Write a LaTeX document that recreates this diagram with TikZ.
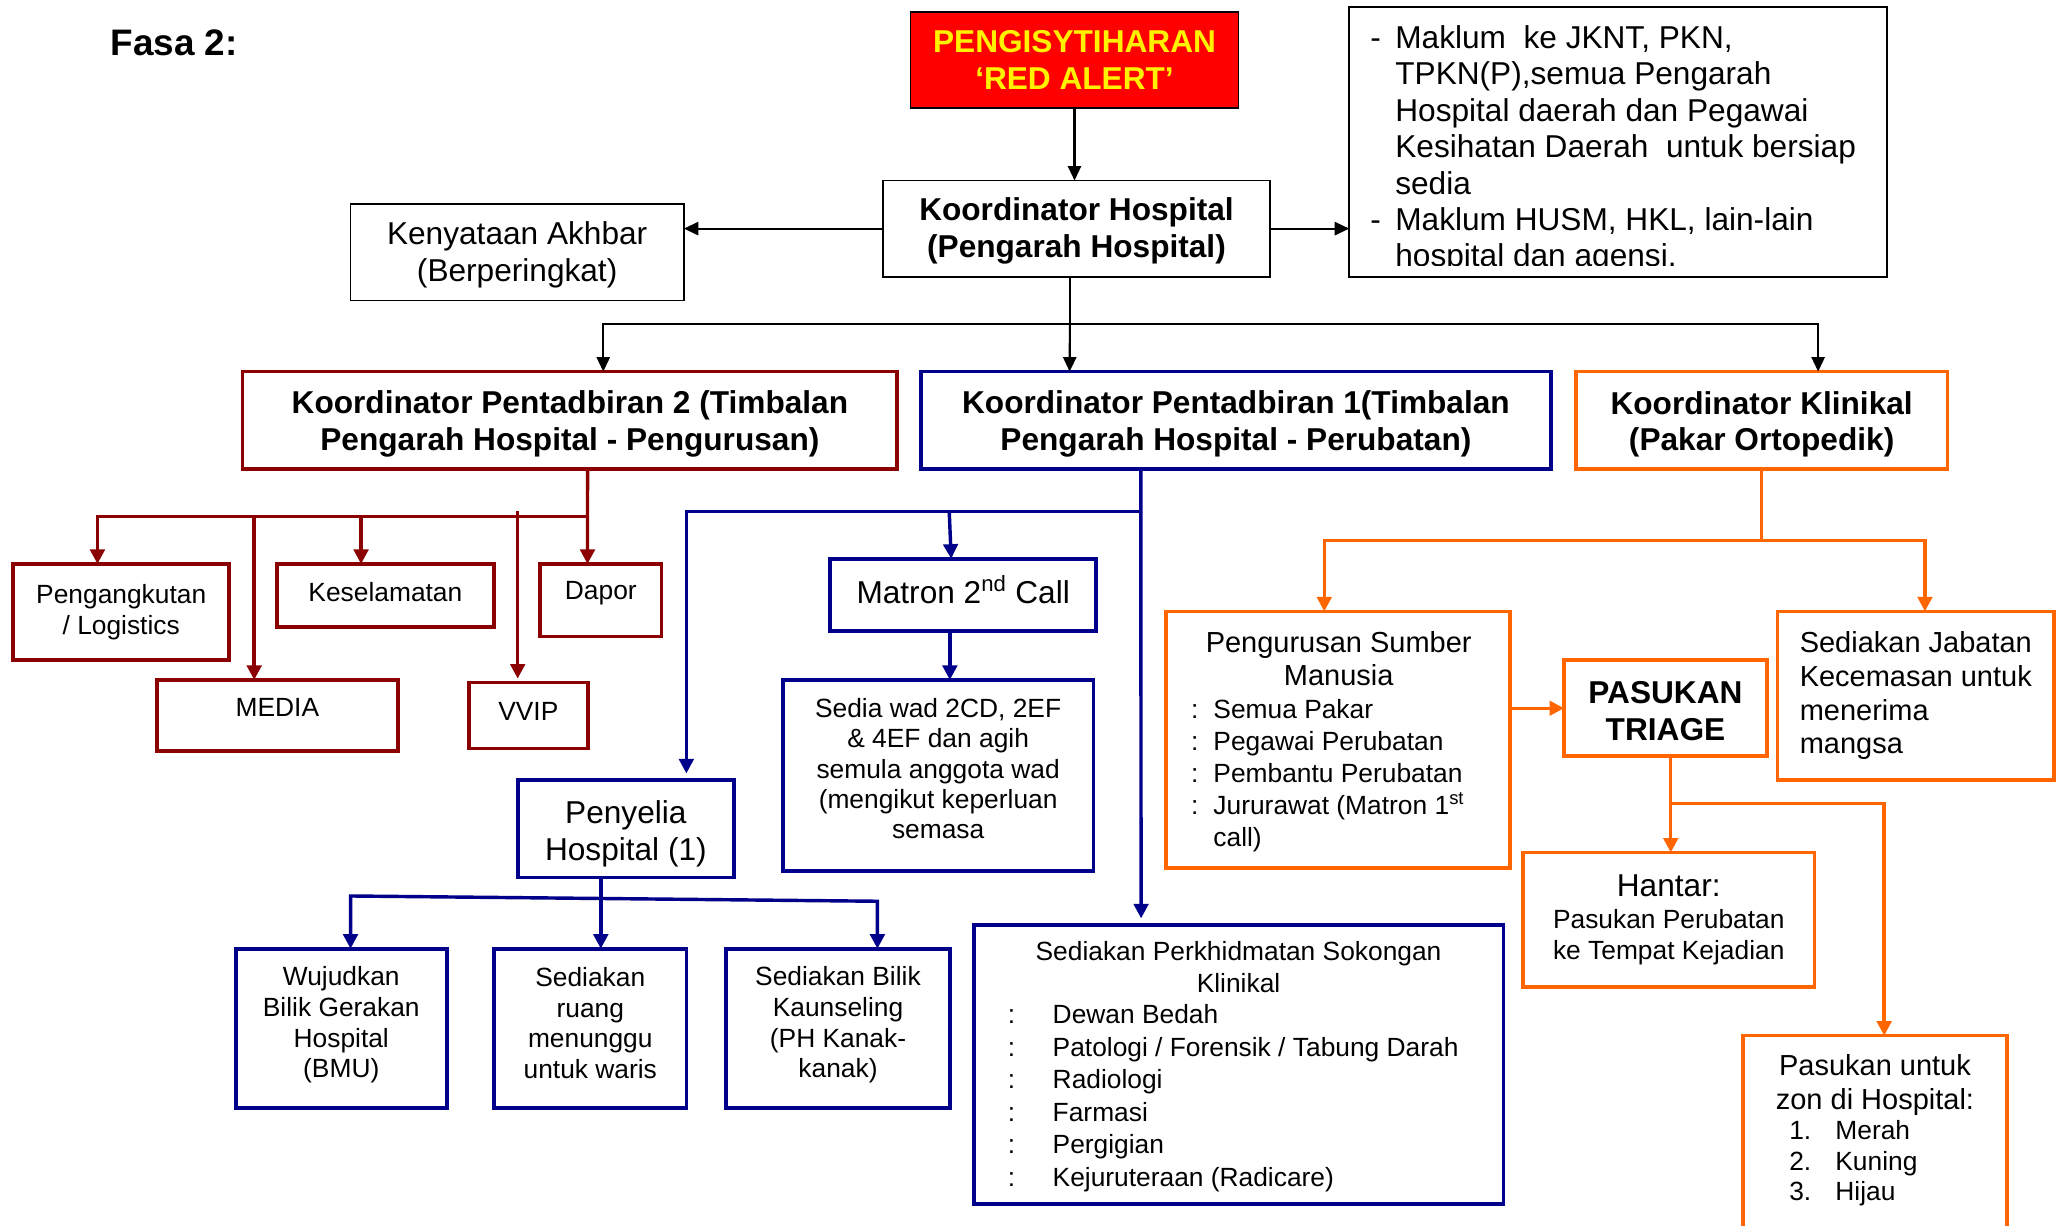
\documentclass[tikz,border=0pt]{standalone}
\usepackage{fontspec}
\setmainfont{Liberation Sans}
\usetikzlibrary{arrows.meta,calc}
\definecolor{dred}{RGB}{139,0,0}
\definecolor{nvy}{RGB}{0,0,139}
\definecolor{orng}{RGB}{255,102,0}
\newcommand\myfA{\fontsize{20}{23.5}\selectfont}
\newcommand\myfB{\fontsize{22}{25.7}\selectfont}
\newcommand\myfC{\fontsize{24}{28}\selectfont}
\begin{document}
\begin{tikzpicture}[x=1pt,y=-1pt,
  bx/.style={draw, line width=2.8pt, inner sep=0pt, outer sep=0pt, anchor=north west, align=center},
  kbox/.style={bx, draw=black, line width=1.4pt},
  rbox/.style={bx, draw=dred},
  nbox/.style={bx, draw=nvy},
  obox/.style={bx, draw=orng},
  sz/.style 2 args={minimum width=#1, minimum height=#2},
  txt/.style={inner sep=0pt, outer sep=0pt, align=center},
  cb/.style={draw=black, line width=1.6pt},
  cr/.style={draw=dred, line width=2.6pt},
  cn/.style={draw=nvy, line width=2.6pt},
  co/.style={draw=orng, line width=2.6pt},
  tipb/.style={-{Triangle[width=10pt,length=11pt]}},
  tipc/.style={-{Triangle[width=11pt,length=11pt]}}
]
\useasboundingbox (0,0) rectangle (1568,930);
\clip (0,0) rectangle (1568,930);

\node[txt, anchor=base west, font=\bfseries\fontsize{28}{32}\selectfont] (title) at (84,42) {Fasa 2:};

% top level
\node[kbox, fill=red, text=yellow, font=\bfseries\myfC, sz={249}{73}] (alert) at (691,9) {PENGISYTIHARAN\\‘RED ALERT’};
\node[kbox, sz={294}{73}] (hosp) at (670,137) {};
\node[txt, font=\bfseries\myfC] (hosp-t) at ($(hosp.center)+(0,2)$) {Koordinator Hospital\\(Pengarah Hospital)};
\node[kbox, sz={253}{73}] (akhbar) at (266,155) {};
\node[txt, font=\myfC] (akhbar-t) at ($(akhbar.center)+(0,2)$) {Kenyataan Akhbar\\(Berperingkat)};
\node[kbox, sz={408}{205}] (info) at (1024,5) {};
\begin{scope}
\clip (1024,5) rectangle (1432,201.5);
\node[txt, anchor=north west, align=left] (infot) at (1040,17.2) {\fontsize{24}{27.67}\selectfont\begin{tabular}[t]{@{}l@{\hspace{11pt}}l@{}}
-&Maklum~ ke JKNT, PKN,\\
&TPKN(P),semua Pengarah\\
&Hospital daerah dan Pegawai\\
&Kesihatan Daerah~ untuk bersiap\\
&sedia\\
-&Maklum HUSM, HKL, lain-lain\\
&hospital dan agensi.
\end{tabular}};
\end{scope}

% second level
\node[rbox, sz={497}{74}] (kp2) at (184,282) {};
\node[txt, font=\bfseries\myfC] (kp2-t) at ($(kp2.center)+(0,3)$) {Koordinator Pentadbiran 2 (Timbalan\\Pengarah Hospital - Pengurusan)};
\node[nbox, sz={478}{74}] (kp1) at (699,282) {};
\node[txt, font=\bfseries\myfC] (kp1-t) at ($(kp1.center)+(0,3)$) {Koordinator Pentadbiran 1(Timbalan\\Pengarah Hospital - Perubatan)};
\node[obox, sz={282}{74}] (kk) at (1196,282) {};
\node[txt, font=\bfseries\myfC] (kk-t) at ($(kk.center)+(0,3)$) {Koordinator Klinikal\\(Pakar Ortopedik)};

% dark red group
\node[rbox, font=\myfA, sz={164}{73}] (peng) at (10,428) {Pengangkutan\\/ Logistics};
\node[rbox, sz={165}{48}] (kesel) at (210,428) {};
\node[txt, font=\myfA] (kesel-t) at (292.5,449) {Keselamatan};
\node[rbox, sz={92}{55}] (dapor) at (410,428) {};
\node[txt, font=\myfA] (dapor-t) at (456,450) {Dapor};
\node[rbox, sz={183}{54}] (media) at (119,516) {};
\node[txt, font=\myfA] (media-t) at (210.5,537) {MEDIA};
\node[rbox, sz={90}{50}] (vvip) at (356,518) {};
\node[txt, font=\myfA] (vvip-t) at (401,540) {VVIP};

% navy group
\node[nbox, sz={202}{55}] (matron) at (630,424) {};
\node[txt, font=\myfC] (matron-t) at ($(matron.center)+(0,-4)$) {Matron 2\textsuperscript{nd} Call};
\node[nbox, sz={236}{145}] (sediawad) at (594,516) {};
\node[txt, font=\fontsize{20}{23}\selectfont] (sediawad-t) at ($(sediawad.center)+(0,-5)$) {Sedia wad 2CD, 2EF\\\& 4EF dan agih\\semula anggota wad\\(mengikut keperluan\\semasa};
\node[nbox, sz={164}{74}] (penyelia) at (393,592) {};
\node[txt, font=\myfC] (penyelia-t) at ($(penyelia.center)+(0,4)$) {Penyelia\\Hospital (1)};
\node[nbox, sz={160}{121}] (wuj) at (179,720) {};
\node[txt, font=\fontsize{20}{23.3}\selectfont] (wuj-t) at (259,778) {Wujudkan\\Bilik Gerakan\\Hospital\\(BMU)};
\node[nbox, sz={146}{121}] (ruang) at (375,720) {};
\node[txt, font=\fontsize{20}{23.3}\selectfont] (ruang-t) at (448,776.5) {Sediakan\\ruang\\menunggu\\untuk waris};
\node[nbox, sz={170}{121}] (bilik) at (551,720) {};
\node[txt, font=\fontsize{20}{23.3}\selectfont] (bilik-t) at (636,778) {Sediakan Bilik\\Kaunseling\\(PH Kanak-\\kanak)};
\node[nbox, sz={402}{212}] (perkh) at (739,702) {};
\node[txt, anchor=north] (perkh-t) at (940,711.9) {\fontsize{20}{24.5}\selectfont\begin{tabular}[t]{@{}c@{}}Sediakan Perkhidmatan Sokongan\\Klinikal\end{tabular}};
\node[txt, anchor=north west, align=left] (perkh-l) at (765,759.9) {\fontsize{20}{24.6}\selectfont\begin{tabular}[t]{@{}l@{\hspace{28.4pt}}l@{}}
:&Dewan Bedah\\
:&Patologi / Forensik / Tabung Darah\\
:&Radiologi\\
:&Farmasi\\
:&Pergigian\\
:&Kejuruteraan (Radicare)
\end{tabular}};

% orange group
\node[obox, sz={261}{195}] (psm) at (885,464) {};
\node[txt, anchor=north] (psm-t) at (1016,477.4) {\fontsize{22}{25}\selectfont\begin{tabular}[t]{@{}c@{}}Pengurusan Sumber\\Manusia\end{tabular}};
\node[txt, anchor=north west, align=left] (psm-l) at (904,528) {\fontsize{20}{24.3}\selectfont\begin{tabular}[t]{@{}l@{\hspace{11.4pt}}l@{}}
:&Semua Pakar\\
:&Pegawai Perubatan\\
:&Pembantu Perubatan\\
:&Jururawat (Matron 1\textsuperscript{st}\\
&call)
\end{tabular}};
\node[obox, sz={154}{73}] (triage) at (1187,501) {};
\node[txt, font=\bfseries\myfC] (triage-t) at ($(triage.center)+(0,2)$) {PASUKAN\\TRIAGE};
\node[obox, font=\myfB, align=left, sz={210}{128}] (jab) at (1349,464) {Sediakan Jabatan\\Kecemasan untuk\\menerima\\mangsa};
\node[obox, font=\myfA, sz={221}{102}] (hantar) at (1156,647) {{\myfC Hantar:}\\[1pt]Pasukan Perubatan\\ke Tempat Kejadian};
\node[obox, sz={200}{170}] (pasukan) at (1323,786) {};
\node[txt, anchor=north] (pasukan-t) at (1423,797.7) {\fontsize{22}{26}\selectfont\begin{tabular}[t]{@{}c@{}}Pasukan untuk\\zon di Hospital:\end{tabular}};
\node[txt, anchor=north west, align=left] (pasukan-l) at (1358,848.9) {\fontsize{20}{23}\selectfont\begin{tabular}[t]{@{}l@{\hspace{18.3pt}}l@{}}
1.&Merah\\
2.&Kuning\\
3.&Hijau
\end{tabular}};

% black connectors
\draw[cb,tipb] (alert.south) -- (alert.south |- hosp.north);
\draw[cb,tipb] (hosp.west) -- (hosp.west -| akhbar.east);
\draw[cb,tipb] (hosp.east) -- (hosp.east -| info.west);
\coordinate (hj) at ($(hosp.south)+(-5,36)$);
\coordinate (kp2T) at ($(kp2.north west)!0.551!(kp2.north east)$);
\coordinate (kp1T) at ($(kp1.north west)!0.236!(kp1.north east)$);
\coordinate (kkT) at ($(kk.north west)!0.652!(kk.north east)$);
\draw[cb] (hosp.south -| hj) -- (hj);
\draw[cb,tipb] (hj) -- (kp1T);
\draw[cb,tipb] (hj) -| (kp2T);
\draw[cb,tipb] (hj) -| (kkT);

% dark red connectors
\coordinate (r0) at ($(kp2.south west)!0.527!(kp2.south east)$);
\coordinate (rb) at ($(r0)+(0,36)$);
\coordinate (pengT) at ($(peng.north west)!0.39!(peng.north east)$);
\coordinate (mediaT) at ($(media.north west)!0.404!(media.north east)$);
\coordinate (keselT) at ($(kesel.north west)!0.388!(kesel.north east)$);
\coordinate (vvipT) at ($(vvip.north west)!0.41!(vvip.north east)$);
\coordinate (dapT) at ($(dapor.north west)!0.39!(dapor.north east)$);
\draw[cr,tipc] (r0) -- (dapT);
\draw[cr,tipc] (rb) -| (pengT);
\draw[cr,tipc] (rb) -| (mediaT);
\draw[cr,tipc] (rb) -| (keselT);
\draw[cr,tipc] ($(vvipT |- rb)+(0,-4)$) -- ($(vvipT)+(0,-3)$);

% navy connectors
\coordinate (n0) at ($(kp1.south west)!0.349!(kp1.south east)$);
\coordinate (nb) at ($(n0)+(0,32)$);
\coordinate (penyT) at ($(penyelia.north west)!0.78!(penyelia.north east)$);
\coordinate (matT) at ($(matron.north west)!0.455!(matron.north east)$);
\coordinate (perkhT) at ($(perkh.north west)!0.316!(perkh.north east)$);
\draw[cn,tipc] (n0) -- ($(perkhT)+(0,-5)$);
\draw[cn,tipc] (nb) -| ($(penyT)+(0,-5)$);
\draw[cn,tipc] ($(matT |- nb)+(-1.5,0)$) -- (matT);
\coordinate (matB) at ($(matron.south west)!0.45!(matron.south east)$);
\draw[cn,tipc] (matB) -- (matB |- sediawad.north);
\coordinate (penyB) at ($(penyelia.south west)!0.384!(penyelia.south east)$);
\draw[cn,tipc] (penyB) -- (penyB |- ruang.north);
\coordinate (wujT) at ($(wuj.north west)!0.544!(wuj.north east)$);
\coordinate (bilT) at ($(bilik.north west)!0.676!(bilik.north east)$);
\draw[cn,{Triangle[width=11pt,length=11pt]}-{Triangle[width=11pt,length=11pt]}] (wujT) -- ($(wujT)+(0,-40)$) -- ($(bilT)+(0,-36)$) -- (bilT);

% orange connectors
\coordinate (ob) at ($(kk.south)+(0,54)$);
\coordinate (psmT) at ($(psm.north west)!0.46!(psm.north east)$);
\coordinate (jabT) at ($(jab.north west)!0.533!(jab.north east)$);
\draw[co,tipc] (kk.south) -- (ob) -| (psmT);
\draw[co,tipc] (ob) -| (jabT);
\draw[co,tipc] (triage.west -| psm.east) -- (triage.west);
\coordinate (trB) at ($(triage.south west)!0.526!(triage.south east)$);
\draw[co,tipc] (trB) -- (trB |- hantar.north);
\coordinate (pasT) at ($(pasukan.north west)!0.535!(pasukan.north east)$);
\draw[co,tipc] ($(trB)+(0,36)$) -| (pasT);
\end{tikzpicture}
\end{document}
